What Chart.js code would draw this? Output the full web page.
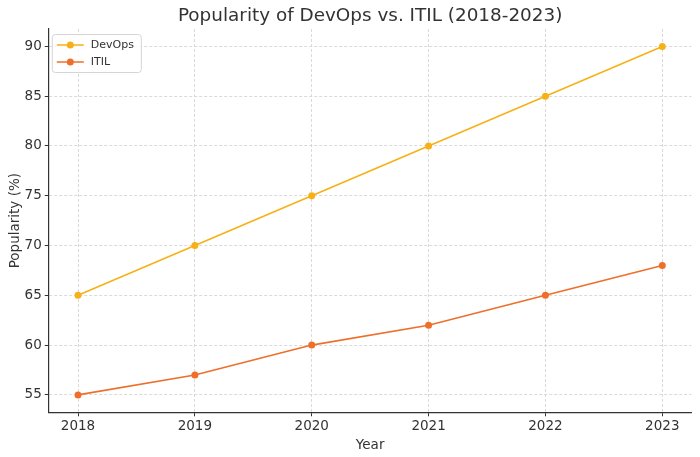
<!DOCTYPE html>
<html><head><meta charset="utf-8">
<script src="https://cdn.jsdelivr.net/npm/chart.js@4/dist/chart.umd.min.js"></script>
<style>html,body{margin:0;padding:0;background:#fff}#wrap{width:700px;height:457px}</style>
</head><body><div id="wrap"><canvas id="c" width="700" height="457"></canvas></div>
<script>
const years = [2018, 2019, 2020, 2021, 2022, 2023];
const devops = [65, 70, 75, 80, 85, 90];
const itil = [55, 57, 60, 62, 65, 68];
const yTicks = [55, 60, 65, 70, 75, 80, 85, 90];
const seriesNames = ['DevOps', 'ITIL'];
const colors = ['#f7b116', '#ef6f2a'];
const titleText = 'Popularity of DevOps vs. ITIL (2018-2023)';

const FONT = "'DejaVu Sans', sans-serif";
const TXT = '#333333';

const extras = {
  id: 'extras',
  afterDraw(chart) {
    const ctx = chart.ctx;
    const a = chart.chartArea;
    ctx.save();
    // title centred over the plot area
    ctx.fillStyle = TXT;
    ctx.font = '18.4px ' + FONT;
    ctx.textAlign = 'center';
    ctx.textBaseline = 'middle';
    ctx.fillText(titleText, (a.left + a.right) / 2, 16.5);
    // legend
    const x0 = a.left + 3, y0 = a.top + 5, w = 89, h = 38;
    ctx.beginPath();
    ctx.roundRect(x0 + 0.5, y0 + 0.5, w, h, 3);
    ctx.fillStyle = 'rgba(255,255,255,0.8)';
    ctx.fill();
    ctx.strokeStyle = '#d5d5d5';
    ctx.lineWidth = 1;
    ctx.stroke();
    chart.data.datasets.forEach((ds, i) => {
      const y = y0 + 11 + i * 17;
      ctx.strokeStyle = ds.borderColor;
      ctx.lineWidth = 1.5;
      ctx.beginPath();
      ctx.moveTo(x0 + 5, y);
      ctx.lineTo(x0 + 32, y);
      ctx.stroke();
      ctx.fillStyle = ds.backgroundColor;
      ctx.beginPath();
      ctx.arc(x0 + 18.5, y, 3.5, 0, Math.PI * 2);
      ctx.fill();
      ctx.fillStyle = TXT;
      ctx.font = '11px ' + FONT;
      ctx.textBaseline = 'middle';
      ctx.textAlign = 'left';
      ctx.fillText(ds.label, x0 + 39, y + 0.5);
    });
    ctx.restore();
  }
};

new Chart(document.getElementById('c'), {
  type: 'line',
  data: {
    datasets: [
      { label: seriesNames[0], data: years.map((y, i) => ({x: y, y: devops[i]})),
        borderColor: colors[0], backgroundColor: colors[0], borderWidth: 1.6,
        pointRadius: 3.5, pointHoverRadius: 3.5, pointBorderWidth: 0, tension: 0 },
      { label: seriesNames[1], data: years.map((y, i) => ({x: y, y: itil[i]})),
        borderColor: colors[1], backgroundColor: colors[1], borderWidth: 1.6,
        pointRadius: 3.5, pointHoverRadius: 3.5, pointBorderWidth: 0, tension: 0 }
    ]
  },
  options: {
    responsive: false,
    animation: false,
    devicePixelRatio: 1,
    layout: { padding: { left: 0, right: 8.5, top: 29, bottom: 0 } },
    plugins: {
      legend: { display: false },
      tooltip: { enabled: false },
      title: { display: false }
    },
    scales: {
      x: {
        type: 'linear',
        min: 2017.75, max: 2023.25,
        afterBuildTicks: s => { s.ticks = years.map(v => ({ value: v })); },
        afterFit: s => { s.height = 44.7; },
        ticks: { color: TXT, font: { family: FONT, size: 13.5 }, padding: 2,
                 maxRotation: 0, autoSkip: false, callback: v => String(v) },
        grid: { color: '#d0d0d0', lineWidth: 0.8, tickLength: 4, tickColor: TXT,
                tickWidth: 1, tickBorderDash: [] },
        border: { display: true, color: TXT, width: 1.2, dash: [3, 2] },
        title: { display: true, text: 'Year', color: TXT,
                 font: { family: FONT, size: 13.5 }, padding: { top: 0, bottom: 3 } }
      },
      y: {
        type: 'linear',
        min: 53.25, max: 91.75,
        afterBuildTicks: s => { s.ticks = yTicks.map(v => ({ value: v })); },
        afterFit: s => { s.width = 48.8; },
        ticks: { color: TXT, font: { family: FONT, size: 13.5 }, padding: 3,
                 callback: v => String(v) },
        grid: { color: '#d0d0d0', lineWidth: 0.8, tickLength: 4, tickColor: TXT,
                tickWidth: 1, tickBorderDash: [] },
        border: { display: true, color: TXT, width: 1.2, dash: [3, 2] },
        title: { display: true, text: 'Popularity (%)', color: TXT,
                 font: { family: FONT, size: 13.5 }, padding: { top: 7, bottom: 0 } }
      }
    }
  },
  plugins: [extras]
});
</script>
</body></html>
